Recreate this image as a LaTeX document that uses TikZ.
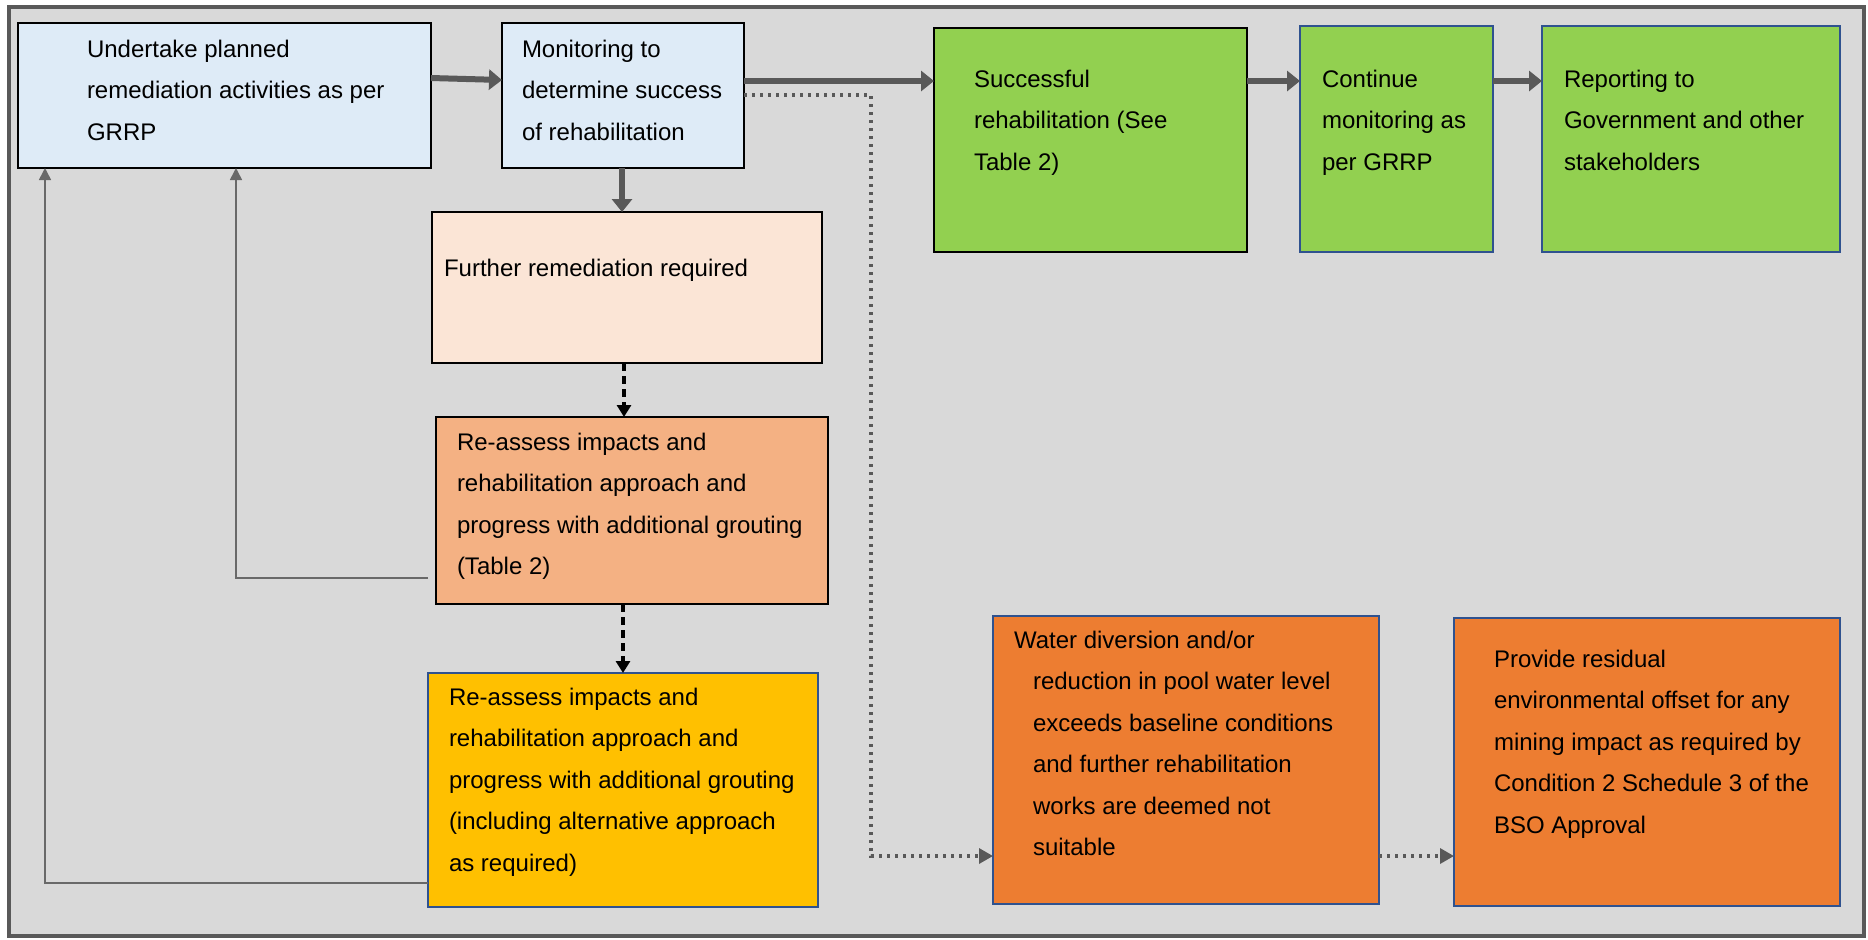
\documentclass[tikz,border=0pt]{standalone}
\usepackage{fontspec}
\setmainfont{Liberation Sans}
\usetikzlibrary{arrows.meta,calc,fit}
\definecolor{framegray}{RGB}{89,89,89}
\definecolor{bggray}{RGB}{217,217,217}
\definecolor{lblue}{RGB}{222,235,247}
\definecolor{lgreen}{RGB}{146,208,80}
\definecolor{peach}{RGB}{251,229,214}
\definecolor{salmon}{RGB}{244,177,131}
\definecolor{gold}{RGB}{255,192,0}
\definecolor{orng}{RGB}{237,125,49}
\definecolor{bblue}{RGB}{47,82,143}
\definecolor{agray}{RGB}{89,89,89}
\definecolor{lgray}{RGB}{105,105,105}
\begin{document}
\begin{tikzpicture}[x=0.5pt,y=-0.5pt,
  boxk/.style={draw=black,line width=1.3pt,inner sep=0pt,outer sep=0pt},
  boxb/.style={draw=bblue,line width=1pt,inner sep=0pt,outer sep=0pt},
  txt/.style={anchor=north west,inner sep=0pt,outer sep=0pt,align=left,yshift=14.5pt,font=\fontsize{12}{20.75}\selectfont},
  fatarrow/.style={draw=agray,line width=3pt,-{Triangle[length=6.5pt,width=10pt]}},
  thinarrow/.style={draw=lgray,line width=0.8pt,-{Triangle[length=6pt,width=6pt]}},
  dasharrow/.style={draw=black,line width=1.6pt,dash pattern=on 4pt off 2.5pt,-{Triangle[length=6pt,width=7pt]}},
  dotarrow/.style={draw=agray,line width=1.65pt,dash pattern=on 1.65pt off 2.35pt,-{Triangle[length=7pt,width=7.5pt]}}
]
\useasboundingbox[fill=white] (0,0) rectangle (1868,939);
\draw[draw=framegray,line width=2.2pt,fill=bggray] (9,7) rectangle (1864,936);

% boxes
\node[boxk,fill=lblue,fit={(18,23)(431,168)}] (b1) {};
\node[boxk,fill=lblue,fit={(502,23)(744,168)}] (b2) {};
\node[boxk,fill=lgreen,fit={(934,28)(1247,252)}] (b3) {};
\node[boxb,fill=lgreen,fit={(1300,26)(1493,252)}] (b4) {};
\node[boxb,fill=lgreen,fit={(1542,26)(1840,252)}] (b5) {};
\node[boxk,fill=peach,fit={(432,212)(822,363)}] (b6) {};
\node[boxk,fill=salmon,fit={(436,417)(828,604)}] (b7) {};
\node[boxb,fill=gold,fit={(428,673)(818,907)}] (b8) {};
\node[boxb,fill=orng,fit={(993,616)(1379,904)}] (b9) {};
\node[boxb,fill=orng,fit={(1454,618)(1840,906)}] (b10) {};

% texts
\node[txt] (t1) at (87,57) {\rule{0pt}{14.5pt}Undertake planned\\remediation activities as per\\GRRP};
\node[txt] (t2) at (522,57) {\rule{0pt}{14.5pt}Monitoring to\\determine success\\of rehabilitation};
\node[txt] (t3) at (974,87) {\rule{0pt}{14.5pt}Successful\\rehabilitation (See\\Table 2)};
\node[txt] (t4) at (1322,87) {\rule{0pt}{14.5pt}Continue\\monitoring as\\per GRRP};
\node[txt] (t5) at (1564,87) {\rule{0pt}{14.5pt}Reporting to\\Government and other\\stakeholders};
\node[txt] (t6) at (444,276) {\rule{0pt}{14.5pt}Further remediation required};
\node[txt] (t7) at (457,450) {\rule{0pt}{14.5pt}Re-assess impacts and\\rehabilitation approach and\\progress with additional grouting\\(Table 2)};
\node[txt] (t8) at (449,705) {\rule{0pt}{14.5pt}Re-assess impacts and\\rehabilitation approach and\\progress with additional grouting\\(including alternative approach\\as required)};
\node[txt] (t9) at (1014,648) {\rule{0pt}{14.5pt}Water diversion and/or\\\hspace*{9.5pt}reduction in pool water level\\\hspace*{9.5pt}exceeds baseline conditions\\\hspace*{9.5pt}and further rehabilitation\\\hspace*{9.5pt}works are deemed not\\\hspace*{9.5pt}suitable};
\node[txt] (t10) at (1494,667) {\rule{0pt}{14.5pt}Provide residual\\environmental offset for any\\mining impact as required by\\Condition 2 Schedule 3 of the\\BSO Approval};

% connectors
\draw[fatarrow] ($(b1.north east)+(0,55)$) -- ($(b2.north west)+(0,57)$);
\draw[fatarrow] ($(b2.north east)+(0,58)$) coordinate (s2) -- (s2 -| b3.west);
\draw[fatarrow] ($(b3.north east)+(0,53)$) coordinate (s3) -- (s3 -| b4.west);
\draw[fatarrow] ($(b4.north east)+(0,55)$) coordinate (s4) -- (s4 -| b5.west);
\draw[fatarrow] ($(b2.south west)+(120,0)$) coordinate (s5) -- (s5 |- b6.north);
\draw[dasharrow] ($(b6.south west)+(192,0)$) coordinate (s6) -- (s6 |- b7.north);
\draw[dasharrow] ($(b7.south west)+(187,0)$) coordinate (s7) -- (s7 |- b8.north);
\draw[thinarrow] ($(b7.north west)+(-8,161)$) -| ($(b1.south west)+(218,0)$);
\draw[thinarrow] ($(b8.north west)+(0,210)$) -| ($(b1.south west)+(27,0)$);
\draw[dotarrow] ($(b2.north east)+(0,72)$) -- ++(127,0) |- ($(b9.north west)+(0,240)$);
\draw[dotarrow] ($(b9.north east)+(0,240)$) coordinate (s9) -- (s9 -| b10.west);
\end{tikzpicture}
\end{document}
